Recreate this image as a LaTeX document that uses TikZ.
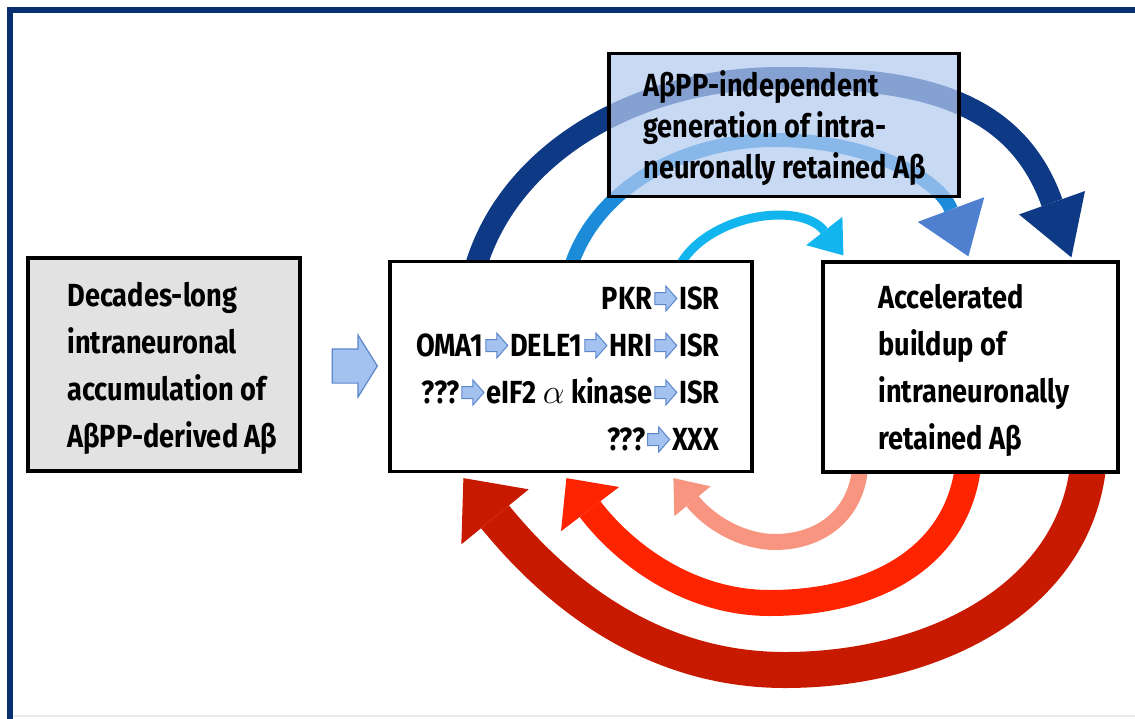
\documentclass[tikz,border=0pt]{standalone}
\usepackage{fontspec}
\setmainfont{Fira Sans}[FakeStretch=0.85]
\usepackage{tikz}
\definecolor{FrameBlue}{HTML}{0A2F70}
\definecolor{BoxGrey}{HTML}{E2E2E2}
\definecolor{TopFill}{HTML}{B3CAF0}
\definecolor{ArrowFill}{HTML}{A4C2F0}
\definecolor{ArrowEdge}{HTML}{5B86CC}
\definecolor{ArcNavy}{HTML}{0E3A85}
\definecolor{ArcMid}{HTML}{1C8BD8}
\definecolor{HeadMid}{HTML}{4F7FCF}
\definecolor{ArcCyan}{HTML}{13B5EE}
\definecolor{SalmonRed}{HTML}{F79580}
\definecolor{BrightRed}{HTML}{FF2400}
\definecolor{DarkRed}{HTML}{C81A00}
\usetikzlibrary{arrows.meta,shapes.arrows,positioning,calc,backgrounds}
\newcommand{\blkarrow}{\hspace{1pt}\tikz[baseline=-5.5pt]\draw[draw=ArrowEdge, fill=ArrowFill, line width=0.5pt] (0pt,-3pt) -- (5.5pt,-3pt) -- (5.5pt,-6.25pt) -- (11pt,0pt) -- (5.5pt,6.25pt) -- (5.5pt,3pt) -- (0pt,3pt) -- cycle;\hspace{1pt}}

\begin{document}
\begin{tikzpicture}[x=0.5pt, y=-0.5pt,
    box/.style={draw, line width=1.6pt, inner sep=0pt},
    boxtext/.style={inner sep=0pt, font=\fontsize{16pt}{23.5pt}\selectfont\bfseries}]
\useasboundingbox (0,0) rectangle (1135,718);
%frame of the figure
\draw[FrameBlue, line width=2.6pt] (10,730) -- (10,10) -- (1145,10);
\draw[gray!15, line width=0.8pt] (13,716) -- (1135,716);

%the four boxes
\node[box, fill=BoxGrey, minimum width=136pt, minimum height=106.5pt] (accum) at (164,364.5) {};
\node[box, fill=white, minimum width=181pt, minimum height=105pt] (stress) at (571,366.5) {};
\node[box, fill=white, minimum width=147.5pt, minimum height=105pt] (buildup) at (970.5,367) {};
\node[box, fill=TopFill, fill opacity=0.72, minimum width=175pt, minimum height=71.5pt] (indep) at (784,125) {};

%texts of the boxes
\node[boxtext, anchor=west, align=left] (accumtext) at (67,368) {Decades-long\\intraneuronal\\accumulation of\\AβPP-derived Aβ};
\node[boxtext, anchor=east, align=right] (stresstext) at (720,369) {PKR\blkarrow ISR\\OMA1\blkarrow DELE1\blkarrow HRI\blkarrow ISR\\???\blkarrow eIF2 $\alpha$ kinase\blkarrow ISR\\???\blkarrow XXX};
\node[boxtext, anchor=west, align=left] (builduptext) at (878,370) {Accelerated\\buildup of\\intraneuronally\\retained Aβ};
\node[boxtext, anchor=west, align=left, font=\fontsize{16pt}{20.5pt}\selectfont\bfseries] (indeptext) at (643,128) {AβPP-independent\\generation of intra-\\neuronally retained Aβ};

%block arrow between first two boxes
\node[single arrow, draw=ArrowEdge, fill=ArrowFill, line width=0.6pt, minimum height=22.5pt, minimum width=30.5pt, single arrow head extend=7pt, single arrow tip angle=116, inner xsep=0pt, inner ysep=8.25pt] (feed) at (349.5,366) {};

%loops, behind the boxes
\begin{scope}[on background layer]
% upper (blue) loops
\draw[ArcNavy, line width=11pt, -{Triangle[length=29pt,width=35pt,line width=0pt]}] ($(stress.north west)+(87,8)$) .. controls (510,150) and (640,78) .. (780,78) .. controls (900,78) and (1012,90) .. ($(buildup.north west)+(250,-3)$);
\draw[ArcMid, line width=7pt, -{Triangle[length=25pt,width=35.5pt,line width=0pt,color=HeadMid]}] ($(stress.north west)+(182,8)$) .. controls (595,190) and (680,140) .. (775,140) .. controls (870,140) and (940,180) .. ($(buildup.north west)+(147,-4)$);
\draw[ArcCyan, line width=4.5pt, -{Triangle[length=15.5pt,width=23pt,line width=0pt]}] ($(stress.north west)+(290,8)$) .. controls (705,215) and (800,200) .. ($(buildup.north west)+(22,-5)$);
% lower (red) loops
\draw[SalmonRed, line width=8pt, -{Triangle[length=15pt,width=23.5pt,line width=0pt]}] ($(buildup.south west)+(39,-10)$) .. controls (858,515) and (820,542) .. (775,542) .. controls (745,542) and (712,525) .. ($(stress.south west)+(285,5)$);
\draw[BrightRed, line width=13pt, -{Triangle[length=19.5pt,width=36.5pt,line width=0pt]}] ($(buildup.south west)+(147,-10)$) .. controls (958,560) and (870,603) .. (770,603) .. controls (690,603) and (625,555) .. ($(stress.south west)+(178,5)$);
\draw[DarkRed, line width=18pt, -{Triangle[length=25pt,width=43.5pt,line width=0pt]}] ($(buildup.south west)+(267,-10)$) .. controls (1075,600) and (930,670) .. (785,670) .. controls (640,670) and (545,578) .. ($(stress.south west)+(75,5)$);
\end{scope}
\end{tikzpicture}
\end{document}
